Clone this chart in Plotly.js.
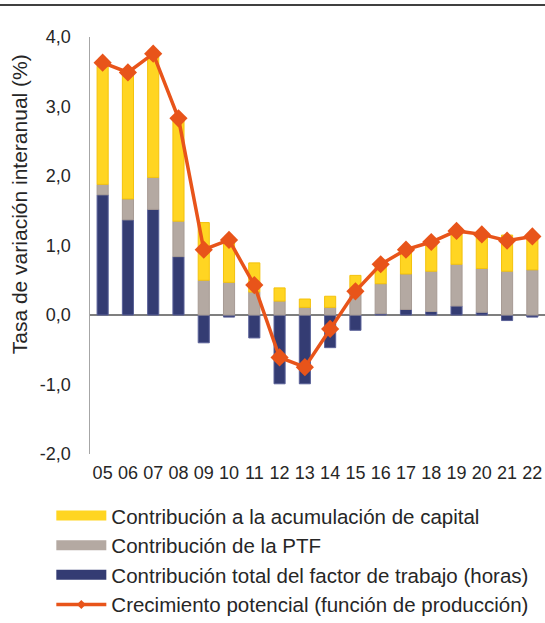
<!DOCTYPE html>
<html>
<head>
<meta charset="utf-8">
<script src="https://cdn.plot.ly/plotly-3.0.1.min.js"></script>
<style>html,body{margin:0;padding:0;background:#fff;}#chart{width:545px;height:623px;}</style>
</head>
<body>
<div id="chart"></div>
<script>
var years = ['05','06','07','08','09','10','11','12','13','14','15','16','17','18','19','20','21','22'];
var labor = [1.73,1.37,1.52,0.84,-0.40,-0.03,-0.33,-0.99,-0.99,-0.47,-0.22,0.02,0.08,0.05,0.13,0.04,-0.08,-0.03];
var ptf = [0.15,0.30,0.46,0.51,0.50,0.47,0.33,0.20,0.11,0.11,0.30,0.43,0.51,0.58,0.60,0.63,0.63,0.65];
var capital = [1.70,1.81,1.74,1.46,0.83,0.60,0.42,0.19,0.12,0.16,0.27,0.28,0.34,0.41,0.47,0.49,0.52,0.50];
var potential = [3.63,3.49,3.76,2.83,0.94,1.08,0.43,-0.61,-0.75,-0.20,0.34,0.73,0.94,1.05,1.21,1.16,1.07,1.13];

var names = ['Contribución a la acumulación de capital','Contribución de la PTF','Contribución total del factor de trabajo (horas)','Crecimiento potencial (función de producción)'];
var yTicks = [-2,-1,0,1,2,3,4];
var yTickLabels = ['-2,0','-1,0','0,0','1,0','2,0','3,0','4,0'];

var FONT = 'Liberation Sans, Arial, sans-serif';
var C_LAB = '#343C73', C_PTF = '#B4A9A2', C_CAP = '#FFD522', C_POT = '#E8541A';

var traces = [
  {type:'bar', name:names[2], x:years, y:labor, showlegend:false,
   marker:{color:C_LAB, line:{color:'#5A6198', width:1}}},
  {type:'bar', name:names[1], x:years, y:ptf, showlegend:false,
   marker:{color:C_PTF, line:{color:'#A79B94', width:1}}},
  {type:'bar', name:names[0], x:years, y:capital, showlegend:false,
   marker:{color:C_CAP, line:{color:'#F4C20C', width:1}}},
  {type:'scatter', mode:'lines+markers', name:names[3], x:years, y:potential, showlegend:false,
   line:{color:C_POT, width:3.5},
   marker:{symbol:'diamond', size:14, color:C_POT}},
  // legend entries
  {type:'scatter', mode:'lines', name:names[0], x:[null], y:[null], legendrank:1, legendgroup:'a',
   line:{color:C_CAP, width:12}},
  {type:'scatter', mode:'lines', name:names[1], x:[null], y:[null], legendrank:2, legendgroup:'b',
   line:{color:C_PTF, width:12}},
  {type:'scatter', mode:'lines', name:names[2], x:[null], y:[null], legendrank:3, legendgroup:'c',
   line:{color:C_LAB, width:12}},
  {type:'scatter', mode:'lines+markers', name:names[3], x:[null], y:[null], legendrank:4, legendgroup:'d',
   line:{color:C_POT, width:3.5}, marker:{symbol:'diamond', size:7, color:C_POT}}
];

var layout = {
  width:545, height:623,
  margin:{l:90, r:0, t:37, b:169, autoexpand:false},
  paper_bgcolor:'#fff', plot_bgcolor:'#fff',
  font:{family:FONT, size:18, color:'#262626'},
  barmode:'relative', bargap:0.56,
  separators:',.',
  showlegend:true,
  legend:{orientation:'v', x:-0.085, xanchor:'left', y:-0.1, yanchor:'top',
          font:{size:20.5, family:FONT, color:'#262626'}, itemwidth:50, bgcolor:'rgba(0,0,0,0)',
          traceorder:'grouped', tracegroupgap:0},
  xaxis:{type:'category', showline:false, ticks:'', showgrid:false, zeroline:false,
         tickfont:{size:18}, ticklabelstandoff:6, range:[-0.5,17.5], automargin:false},
  yaxis:{range:[-2,4], tickvals:yTicks, ticktext:yTickLabels, showgrid:false,
         zeroline:true, zerolinecolor:'#7F7F7F', zerolinewidth:1.5,
         showline:true, linecolor:'#A6A6A6', linewidth:1.5, ticks:'',
         tickfont:{size:18}, ticklabelstandoff:14, automargin:false},
  annotations:[{text:'Tasa de variación interanual (%)', textangle:-90,
    xref:'paper', yref:'y', x:-0.155, y:1.6, xanchor:'center', yanchor:'middle',
    showarrow:false, font:{size:21, family:FONT, color:'#262626'}}],
  shapes:[{type:'line', xref:'paper', yref:'paper', x0:-0.2, x1:1, y0:1.077, y1:1.077,
    line:{color:'#000', width:1.5}}]
};

Plotly.newPlot('chart', traces, layout, {displayModeBar:false, staticPlot:true});
</script>
</body>
</html>
